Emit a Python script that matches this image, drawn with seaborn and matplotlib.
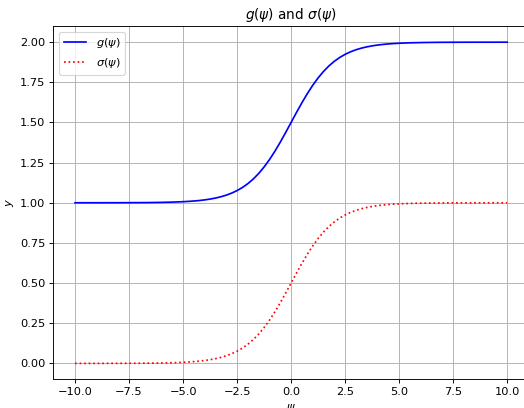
import matplotlib
matplotlib.use("Agg")
import matplotlib.pyplot as plt
import seaborn as sns
import pandas as pd

psi = [-10.0, -9.5, -9.0, -8.5, -8.0, -7.5, -7.0, -6.5, -6.0, -5.5, -5.0, -4.75, -4.5, -4.25, -4.0,
       -3.75, -3.5, -3.25, -3.0, -2.75, -2.5, -2.25, -2.0, -1.75, -1.5, -1.25, -1.0, -0.75, -0.5, -0.25,
       0.0, 0.25, 0.5, 0.75, 1.0, 1.25, 1.5, 1.75, 2.0, 2.25, 2.5, 2.75, 3.0, 3.25, 3.5, 3.75, 4.0,
       4.25, 4.5, 4.75, 5.0, 5.5, 6.0, 6.5, 7.0, 7.5, 8.0, 8.5, 9.0, 9.5, 10.0]
sigma_vals = [0.0000, 0.0001, 0.0001, 0.0002, 0.0003, 0.0006, 0.0009, 0.0015, 0.0025, 0.0041, 0.0067,
              0.0086, 0.0110, 0.0140, 0.0180, 0.0230, 0.0293, 0.0374, 0.0474, 0.0601, 0.0759, 0.0953,
              0.1192, 0.1480, 0.1824, 0.2227, 0.2689, 0.3208, 0.3775, 0.4378, 0.5000, 0.5622, 0.6225,
              0.6792, 0.7311, 0.7773, 0.8176, 0.8520, 0.8808, 0.9047, 0.9241, 0.9399, 0.9526, 0.9626,
              0.9707, 0.9770, 0.9820, 0.9860, 0.9890, 0.9914, 0.9933, 0.9959, 0.9975, 0.9985, 0.9991,
              0.9994, 0.9997, 0.9998, 0.9999, 0.9999, 1.0000]
g_vals = [1.0000, 1.0001, 1.0001, 1.0002, 1.0003, 1.0006, 1.0009, 1.0015, 1.0025, 1.0041, 1.0067,
          1.0086, 1.0110, 1.0140, 1.0180, 1.0230, 1.0293, 1.0374, 1.0474, 1.0601, 1.0759, 1.0953,
          1.1192, 1.1480, 1.1824, 1.2227, 1.2689, 1.3208, 1.3775, 1.4378, 1.5000, 1.5622, 1.6225,
          1.6792, 1.7311, 1.7773, 1.8176, 1.8520, 1.8808, 1.9047, 1.9241, 1.9399, 1.9526, 1.9626,
          1.9707, 1.9770, 1.9820, 1.9860, 1.9890, 1.9914, 1.9933, 1.9959, 1.9975, 1.9985, 1.9991,
          1.9994, 1.9997, 1.9998, 1.9999, 1.9999, 2.0000]

df = pd.DataFrame({"psi": psi, "g": g_vals, "sigma": sigma_vals})

DPI = 82
fig, ax = plt.subplots(figsize=(524 / DPI, 408 / DPI), dpi=DPI)
fig.subplots_adjust(left=0.102, right=1.009, top=0.936, bottom=0.07)

sns.lineplot(data=df, x="psi", y="g", ax=ax, color="blue", linewidth=1.5, label=r"$g(\psi)$")
sns.lineplot(data=df, x="psi", y="sigma", ax=ax, color="red", linewidth=1.5, linestyle=":",
             label=r"$\sigma(\psi)$")

ax.set_title(r"$g(\psi)$ and $\sigma(\psi)$", fontsize=12)
ax.set_xlabel(r"$\psi$", fontsize=10)
ax.set_ylabel(r"$y$", fontsize=10)
xt = [-10.0, -7.5, -5.0, -2.5, 0.0, 2.5, 5.0, 7.5, 10.0]
yt = [0.0, 0.25, 0.5, 0.75, 1.0, 1.25, 1.5, 1.75, 2.0]
ax.set_xticks(xt)
ax.set_yticks(yt)
ax.set_yticklabels([f"{v:.2f}" for v in yt])
ax.set_xticklabels([f"{v:.1f}".replace("-", "\u2212") for v in xt])
ax.tick_params(labelsize=10)
ax.grid(True, color="#b0b0b0", linewidth=0.8)
ax.legend(loc="upper left", fontsize=10)

fig.savefig("out.png", dpi=DPI)
